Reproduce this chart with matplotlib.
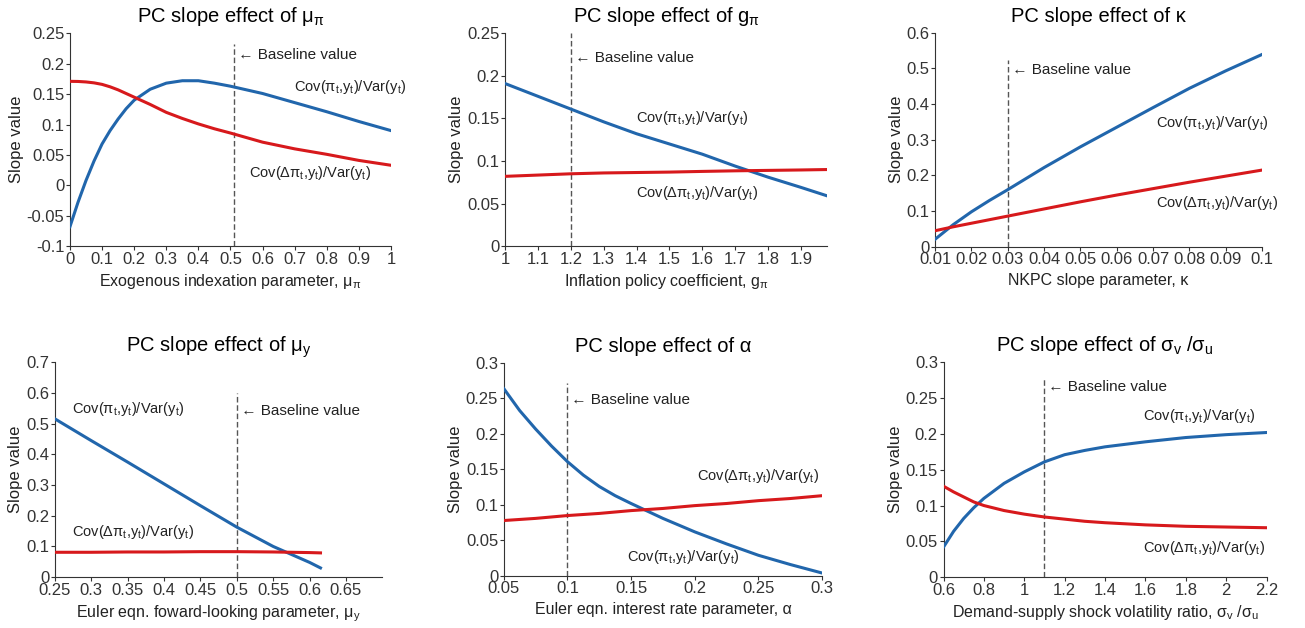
import matplotlib
matplotlib.use("Agg")
import matplotlib.pyplot as plt
from matplotlib.ticker import FuncFormatter

plt.rcParams.update({
    "font.family": ["Liberation Sans", "DejaVu Sans"],
    "mathtext.fontset": "custom",
    "mathtext.rm": "Liberation Sans",
    "mathtext.it": "Liberation Sans",
    "axes.unicode_minus": False,
})

blue = "#2166AC"
red = "#D7191C"
gray = "#333333"

# panel 1: exogenous indexation mu_pi
mu_pi_x = [0, 0.025, 0.05, 0.075, 0.1, 0.125, 0.15, 0.175, 0.2, 0.25, 0.3, 0.35, 0.4, 0.45,
           0.5, 0.6, 0.7, 0.8, 0.9, 1.0]
mu_pi_blue = [-0.068, -0.028, 0.008, 0.040, 0.068, 0.090, 0.109, 0.126, 0.140, 0.158, 0.168,
              0.172, 0.172, 0.168, 0.163, 0.151, 0.136, 0.121, 0.105, 0.090]
mu_pi_red = [0.171, 0.1708, 0.170, 0.1685, 0.166, 0.162, 0.157, 0.151, 0.145, 0.133, 0.120,
             0.110, 0.101, 0.093, 0.086, 0.071, 0.060, 0.051, 0.041, 0.033]

# panel 2: inflation policy coefficient g_pi
g_pi_x = [1.0, 1.1, 1.2, 1.3, 1.4, 1.5, 1.6, 1.7, 1.8, 1.9, 1.98]
g_pi_blue = [0.191, 0.176, 0.161, 0.146, 0.132, 0.120, 0.108, 0.094, 0.081, 0.069, 0.059]
g_pi_red = [0.082, 0.0835, 0.085, 0.086, 0.0865, 0.087, 0.0878, 0.0885, 0.089, 0.0895, 0.090]

# panel 3: NKPC slope kappa
kappa_x = [0.01, 0.015, 0.02, 0.025, 0.03, 0.04, 0.05, 0.06, 0.07, 0.08, 0.09, 0.1]
kappa_blue = [0.021, 0.062, 0.098, 0.130, 0.160, 0.222, 0.280, 0.335, 0.390, 0.444, 0.493, 0.539]
kappa_red = [0.045, 0.056, 0.066, 0.076, 0.086, 0.106, 0.126, 0.145, 0.163, 0.181, 0.198, 0.215]

# panel 4: Euler forward-looking mu_y
mu_y_x = [0.25, 0.3, 0.35, 0.4, 0.45, 0.5, 0.55, 0.6, 0.615]
mu_y_blue = [0.516, 0.445, 0.375, 0.304, 0.233, 0.163, 0.100, 0.048, 0.030]
mu_y_red = [0.081, 0.081, 0.082, 0.082, 0.083, 0.083, 0.082, 0.080, 0.079]

# panel 5: Euler interest rate alpha
alpha_x = [0.05, 0.0625, 0.075, 0.0875, 0.1, 0.1125, 0.125, 0.1375, 0.15, 0.175, 0.2, 0.225,
           0.25, 0.275, 0.3]
alpha_blue = [0.264, 0.233, 0.207, 0.183, 0.161, 0.142, 0.126, 0.113, 0.102, 0.081, 0.062,
              0.045, 0.029, 0.016, 0.004]
alpha_red = [0.078, 0.0795, 0.081, 0.083, 0.085, 0.0865, 0.088, 0.090, 0.092, 0.095, 0.099,
             0.102, 0.106, 0.109, 0.113]

# panel 6: demand-supply volatility ratio
sig_x = [0.6, 0.65, 0.7, 0.75, 0.8, 0.9, 1.0, 1.1, 1.2, 1.3, 1.4, 1.6, 1.8, 2.0, 2.2]
sig_blue = [0.042, 0.064, 0.082, 0.097, 0.110, 0.131, 0.147, 0.161, 0.171, 0.177, 0.182,
            0.189, 0.195, 0.199, 0.202]
sig_red = [0.127, 0.119, 0.112, 0.105, 0.100, 0.093, 0.088, 0.084, 0.081, 0.078, 0.076,
           0.073, 0.071, 0.070, 0.069]

LBL_PI = r"Cov(π$_{\rm t}$,y$_{\rm t}$)/Var(y$_{\rm t}$)"
LBL_DPI = r"Cov(Δπ$_{\rm t}$,y$_{\rm t}$)/Var(y$_{\rm t}$)"

panels = [
    dict(rect=[0.0536, 0.608, 0.246, 0.339], x=mu_pi_x, b=mu_pi_blue, r=mu_pi_red,
         title=r"PC slope effect of μ$_{\rm π}$", xlabel=r"Exogenous indexation parameter, μ$_{\rm π}$",
         xlim=(0, 1), xticks=[i / 10 for i in range(11)],
         ylim=(-0.1, 0.25), yticks=[-0.1, -0.05, 0, 0.05, 0.1, 0.15, 0.2, 0.25],
         base=0.51, base_top=0.232, base_txt=0.215,
         lp=(0.698, 0.161), ld=(0.558, 0.020)),
    dict(rect=[0.387, 0.608, 0.247, 0.339], x=g_pi_x, b=g_pi_blue, r=g_pi_red,
         title=r"PC slope effect of g$_{\rm π}$", xlabel=r"Inflation policy coefficient, g$_{\rm π}$",
         xlim=(1, 1.98), xticks=[1, 1.1, 1.2, 1.3, 1.4, 1.5, 1.6, 1.7, 1.8, 1.9],
         ylim=(0, 0.25), yticks=[0, 0.05, 0.1, 0.15, 0.2, 0.25],
         base=1.2, base_top=0.25, base_txt=0.221,
         lp=(1.397, 0.151), ld=(1.397, 0.062)),
    dict(rect=[0.7165, 0.607, 0.2506, 0.341], x=kappa_x, b=kappa_blue, r=kappa_red,
         title="PC slope effect of κ", xlabel="NKPC slope parameter, κ",
         xlim=(0.01, 0.1), xticks=[0.01, 0.02, 0.03, 0.04, 0.05, 0.06, 0.07, 0.08, 0.09, 0.1],
         ylim=(0, 0.6), yticks=[0, 0.1, 0.2, 0.3, 0.4, 0.5, 0.6],
         base=0.03, base_top=0.524, base_txt=0.494,
         lp=(0.0708, 0.348), ld=(0.0708, 0.124)),
    dict(rect=[0.042, 0.081, 0.251, 0.342], x=mu_y_x, b=mu_y_blue, r=mu_y_red,
         title=r"PC slope effect of μ$_{\rm y}$",
         xlabel=r"Euler eqn. foward-looking parameter, μ$_{\rm y}$",
         xlim=(0.25, 0.70), xticks=[0.25, 0.3, 0.35, 0.4, 0.45, 0.5, 0.55, 0.6, 0.65],
         ylim=(0, 0.7), yticks=[0, 0.1, 0.2, 0.3, 0.4, 0.5, 0.6, 0.7],
         base=0.5, base_top=0.60, base_txt=0.54,
         lp=(0.273, 0.547), ld=(0.273, 0.146)),
    dict(rect=[0.386, 0.083, 0.244, 0.339], x=alpha_x, b=alpha_blue, r=alpha_red,
         title="PC slope effect of α", xlabel="Euler eqn. interest rate parameter, α",
         xlim=(0.05, 0.3), xticks=[0.05, 0.1, 0.15, 0.2, 0.25, 0.3],
         ylim=(0, 0.3), yticks=[0, 0.05, 0.1, 0.15, 0.2, 0.25, 0.3],
         base=0.1, base_top=0.272, base_txt=0.248,
         lp=(0.147, 0.027), ld=(0.202, 0.141)),
    dict(rect=[0.723, 0.081, 0.2475, 0.342], x=sig_x, b=sig_blue, r=sig_red,
         title=r"PC slope effect of σ$_{\rm v}$ /σ$_{\rm u}$",
         xlabel=r"Demand-supply shock volatility ratio, σ$_{\rm v}$ /σ$_{\rm u}$",
         xlim=(0.6, 2.2), xticks=[0.6, 0.8, 1, 1.2, 1.4, 1.6, 1.8, 2, 2.2],
         ylim=(0, 0.3), yticks=[0, 0.05, 0.1, 0.15, 0.2, 0.25, 0.3],
         base=1.1, base_top=0.28, base_txt=0.265,
         lp=(1.59, 0.225), ld=(1.59, 0.041)),
]

fig = plt.figure(figsize=(13.05, 6.28), dpi=100, facecolor="white")

for p in panels:
    ax = fig.add_axes(p["rect"])
    ax.plot(p["x"], p["b"], color=blue, lw=2.2, zorder=3)
    ax.plot(p["x"], p["r"], color=red, lw=2.2, zorder=3)
    ax.plot([p["base"], p["base"]], [p["ylim"][0], p["base_top"]], color="#555555",
            lw=1, dashes=(4, 2), zorder=2)
    ax.text(p["base"], p["base_txt"], " ← Baseline value", fontsize=11,
            color="#222222", va="center", ha="left")
    ax.text(*p["lp"], LBL_PI, fontsize=10.5, color="#222222", va="center", ha="left")
    ax.text(*p["ld"], LBL_DPI, fontsize=10.5, color="#222222", va="center", ha="left")
    ax.set_xlim(*p["xlim"])
    ax.set_ylim(*p["ylim"])
    ax.set_xticks(p["xticks"])
    ax.set_yticks(p["yticks"])
    ax.xaxis.set_major_formatter(FuncFormatter(lambda v, _: f"{v:g}"))
    ax.yaxis.set_major_formatter(FuncFormatter(lambda v, _: f"{v:g}"))
    ax.spines[["top", "right"]].set_visible(False)
    ax.spines[["left", "bottom"]].set_color("#333333")
    ax.tick_params(labelsize=12, colors=gray, length=3, width=0.8, pad=1)
    ax.set_title(p["title"], fontsize=14.5, color="black", pad=8)
    ax.set_xlabel(p["xlabel"], fontsize=11.5, color="#222222", labelpad=4)
    ax.set_ylabel("Slope value", fontsize=12, color="#222222", labelpad=2)

fig.savefig("out.png", dpi=100, facecolor="white")
